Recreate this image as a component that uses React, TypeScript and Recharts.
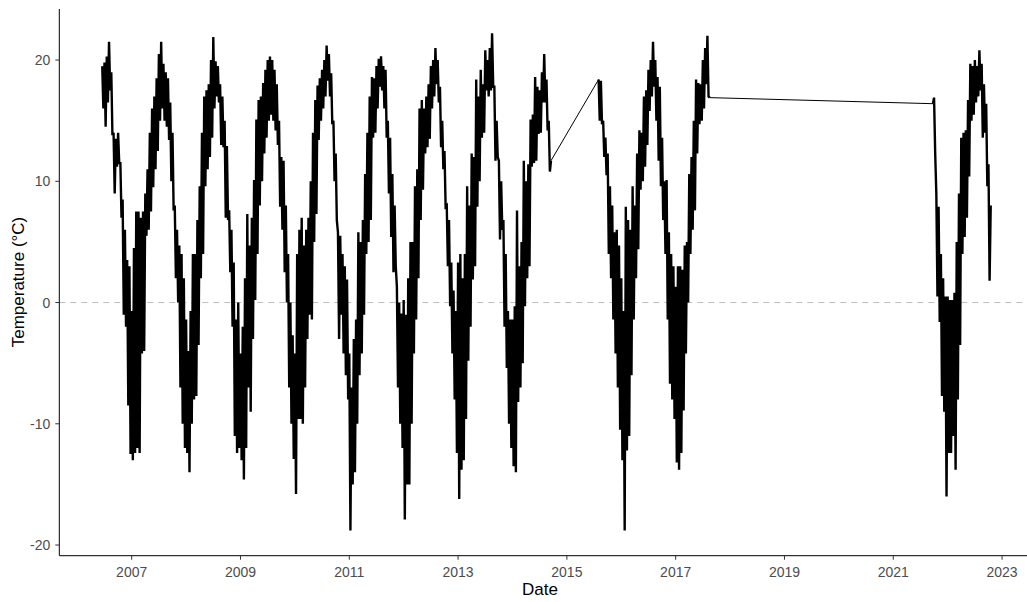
import React from 'react';
import { LineChart, Line, XAxis, YAxis, ReferenceLine } from 'recharts';

// Half-monthly high/low readings (alternating hi, lo), slots of 1/48 year
const t2006 = [19.5,16, 19.8,14.5, 20.3,16.5, 21.5,17.5, 19,13.8, 14,9, 13.5,11.2, 14,11.5, 11.5,7, 8.5,-1, 6,-2, 3.5,-8.5, 3,-12.5];
const t2007 = [-0.7,-13, 4.5,-12.4, 7.5,-12, 7.5,-12.4, 7,-4.2, 7.5,-4, 9,5.5, 11,6, 14,7.5, 16,9.5, 17,11, 18.5,12.5, 20.5,15, 21.5,16, 19.7,15, 19,14.5, 18.5,13.4, 16.5,10, 14,7.6, 8,2, 6,0, 4.7,-7, 4,-10, 2,-12];
const t2008 = [-1.4,-12.4, -4,-14, -0.7,-10, 4,-8, 4,-7.7, 6.8,-3.5, 9.6,2, 14,4, 17,9.6, 17.5,11, 18,12, 20,13.6, 21.9,16, 19.9,17, 19.5,16.5, 18,13, 17,12.8, 15,7, 12.9,6.8, 7.6,2.5, 6,-2, 3.3,-11, -1.4,-12.4, 0,-12];
const t2009 = [-4.2,-13, -2,-14.6, 2,-12, 7.3,-7, 4.7,-9, 7,-3, 10.1,0.2, 15.1,4, 16.7,8, 17,10, 18.1,12.3, 19.2,13.6, 20,15, 20.3,15.5, 20,15, 19.2,14.2, 18,13, 15,7.9, 12,6, 11.7,2.5, 8,0, 4,-7, 0,-10, -2.7,-12.9];
const t2010 = [-4.2,-15.8, 4,-9.6, 6,-9.6, 7,-10, 4.7,-7, 6,-3, 7,-1, 10,-1.4, 14,5, 16.7,7.3, 17.9,13.4, 18.5,15, 19.2,16, 20,17, 21.2,18.3, 20.5,17, 18.9,14.7, 15,10, 12.3,6.8, 5.8,-3, 5.5,-1, 4,-4.2, 3,-6, 1.9,-8];
const t2011 = [-4.2,-18.8, -7,-15, -3,-14, -1.4,-10, 5.8,-6, 5,-4.2, 6.8,-1, 10.6,4, 14,5, 17,6.8, 18.6,13.6, 18.5,14, 19.5,16, 20.1,17.8, 20.3,17.5, 19.5,16, 19.2,13.6, 15,9, 13.6,5.4, 10.6,2.5, 8,3, 1.3,-7, 0,-10, -0.9,-12];
const t2012 = [0.2,-17.9, -1,-15, 2,-15, 5,-10, 5,-4.2, 9.6,-1.4, 11,2, 16,6.8, 16.7,9.3, 16,12.3, 17,12.8, 18,13.5, 19.5,16, 20,17, 21,18, 20,16.5, 17.8,12.8, 15,11, 12.5,7.9, 8,3, 6.8,-0.3, 3.3,-4.2, 1,-8, -0.7,-12.4];
const t2013 = [3.3,-16.2, 4,-13.8, 2,-13, 4,-9.6, 9.6,-4.8, 8,-2, 12.3,1.9, 12,3, 18.4,7.9, 17,10, 19.2,13.6, 18,14, 20.8,17.5, 20,17, 21,17.5, 22.2,17.8, 17.8,11.7, 15,12, 11.7,5.2, 10,6, 6.8,-2, 4,-5.4, -0.7,-10, -1.4,-12];
const t2014 = [-1.4,-13.5, -0.3,-14, 7.6,-8.2, 3,-7, 5,-5, 11.7,-0.3, 10,2, 11.4,3, 15.1,11.2, 15.5,11.5, 18.6,11.7, 17.8,13.9, 17.5,14, 19,16.5, 20.5,16.5, 18.4,14.2, 15,10.8, 11.7];
const t2015 = [18.4,15, 18.3,14.7, 15,12, 13.6,10.5, 12.3,4, 9.6,2, 8,-1.4, 5.8,-4.2, 6,-7, 4.7,-10.5];
const t2016 = [2,-13, -0.7,-18.8, 7.9,-12.2, 6.8,-11, 6,-6, 9.6,-1.4, 8,2, 12.3,4.4, 14.2,9.3, 14,10, 17,11.2, 17.5,13, 19.2,15.8, 20,17, 21.5,17.8, 20,15, 18.6,11.7, 17.8,9.6, 13.6,6.8, 10,4, 10.1,-1.4, 5.8,-6.7, 4,-8, 3,-9.6];
const t2017 = [1.3,-13.2, 3,-13.8, 3,-12.4, 2.7,-8.9, 4.7,-4.2, 5,0, 10.6,4, 12,6, 15,7.6, 18.4,12.3, 18.1,14.7, 18,15, 20,16, 21,18, 22,17, 16.9];
const t2021 = [16.4, 16.9,12.3, 9,0.5, 7.9,-1.6, 4,-7.7, 2,-9, 0.5,-16];
const t2022 = [0.5,-12.4, 0.2,-12.4, 0.2,-11, 0.8,-13.8, 5,-8, 9,-3.5, 13.6,4, 14,5.4, 14.2,7, 16.7,10.4, 19.7,15, 19.5,15.5, 20,16.5, 19.5,17, 20.8,17.5, 19.7,13.6, 18,14, 16.4,9.6, 11.4,1.8, 8];

// [year, first slot (1/48 yr), values]
const series: [number, number, number[]][] = [
  [2006, 22, t2006], [2007, 0, t2007], [2008, 0, t2008], [2009, 0, t2009],
  [2010, 0, t2010], [2011, 0, t2011], [2012, 0, t2012], [2013, 0, t2013],
  [2014, 0, t2014], [2015, 28, t2015], [2016, 0, t2016], [2017, 0, t2017],
  [2021, 35, t2021], [2022, 0, t2022],
];

const xTicks = [2007, 2009, 2011, 2013, 2015, 2017, 2019, 2021, 2023];
const yTicks = [-20, -10, 0, 10, 20];

type Row = { x: number; t: number | null; [k: string]: number | null };

const raw = series.flatMap(([yr, slot, vals]) =>
  vals.map((v, k) => ({ x: yr + (slot + k) / 48, t: v }))
);

// Missing-data stretches: break the dense series and draw each joining line thinly
const data: Row[] = [];
let gapNo = 0;
raw.forEach((p, i) => {
  const next = raw[i + 1];
  const prev = raw[i - 1];
  const row: Row = { ...p };
  if (prev && p.x - prev.x > 0.2) row['g' + (gapNo - 1)] = p.t;
  if (next && next.x - p.x > 0.2) row['g' + gapNo] = p.t;
  data.push(row);
  if (next && next.x - p.x > 0.2) {
    data.push({ x: (p.x + next.x) / 2, t: null });
    gapNo += 1;
  }
});
const gapKeys = Array.from({ length: gapNo }, (_, i) => 'g' + i);

const FONT = '"Liberation Sans", Arial, Helvetica, sans-serif';

export default function App() {
  return (
    <div style={{ position: 'absolute', left: 0, top: 0, width: 1027, height: 602, overflow: 'hidden', background: '#fff' }}>
      <LineChart width={1040} height={602} data={data} margin={{ top: 9, right: 5.3, bottom: 0, left: 0 }}>
        <XAxis
          type="number"
          dataKey="x"
          domain={[2005.669, 2023.6]}
          ticks={xTicks}
          allowDataOverflow
          interval={0}
          height={46.3}
          tickSize={4}
          tickMargin={7}
          axisLine={{ stroke: '#000', strokeWidth: 1 }}
          tickLine={{ stroke: '#333', strokeWidth: 1 }}
          tick={{ fill: '#4D4D4D', fontSize: 14, fontFamily: FONT }}
        />
        <YAxis
          type="number"
          domain={[-20.88, 24.21]}
          ticks={yTicks}
          allowDataOverflow
          interval={0}
          width={59.3}
          tickSize={4}
          tickMargin={5}
          axisLine={{ stroke: '#000', strokeWidth: 1 }}
          tickLine={{ stroke: '#333', strokeWidth: 1 }}
          tick={{ fill: '#4D4D4D', fontSize: 14, fontFamily: FONT }}
        />
        <ReferenceLine y={0} stroke="#BEBEBE" strokeDasharray="6 5" strokeWidth={1} />
        <Line type="linear" dataKey="t" stroke="#000" strokeWidth={2.4} dot={false} connectNulls={false} isAnimationActive={false} />
        {gapKeys.map((k) => (
          <Line key={k} type="linear" dataKey={k} stroke="#000" strokeWidth={1} dot={false} connectNulls isAnimationActive={false} />
        ))}
      </LineChart>
      <div style={{ position: 'absolute', left: 540, top: 581, transform: 'translateX(-50%)', fontFamily: FONT, fontSize: 17, lineHeight: '17px', color: '#000', whiteSpace: 'nowrap' }}>Date</div>
      <div style={{ position: 'absolute', left: 18, top: 282, transform: 'translate(-50%, -50%) rotate(-90deg)', fontFamily: FONT, fontSize: 17, lineHeight: '17px', color: '#000', whiteSpace: 'nowrap' }}>Temperature (°C)</div>
    </div>
  );
}
